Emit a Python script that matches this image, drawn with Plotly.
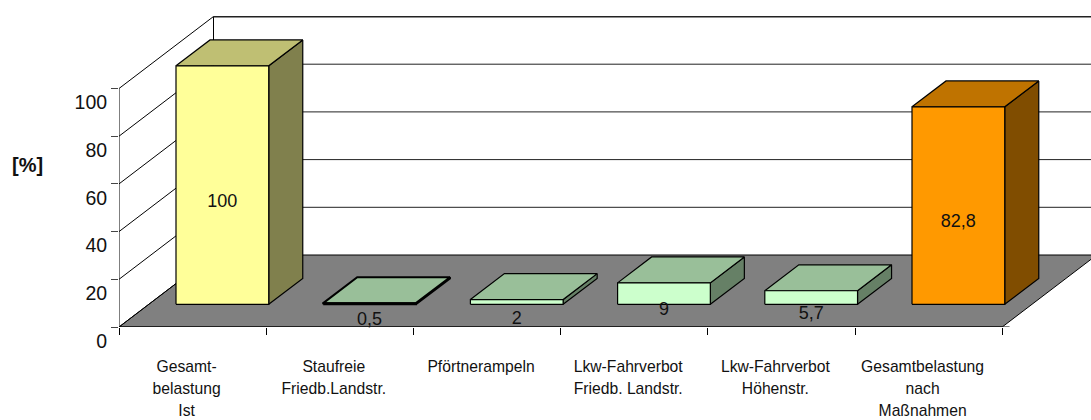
import plotly.graph_objects as go

categories = [
    ["Gesamt-", "belastung", "Ist"],
    ["Staufreie", "Friedb.Landstr."],
    ["Pförtnerampeln"],
    ["Lkw-Fahrverbot", "Friedb. Landstr."],
    ["Lkw-Fahrverbot", "Höhenstr."],
    ["Gesamtbelastung", "nach", "Maßnahmen"],
]
values = [100, 0.5, 2, 9, 5.7, 82.8]
value_labels = ["100", "0,5", "2", "9", "5,7", "82,8"]
y_ticks = [0, 20, 40, 60, 80, 100]

front_colors = ["#FFFF99", "#CCFFCC", "#CCFFCC", "#CCFFCC", "#CCFFCC", "#FF9900"]
top_colors = ["#BFBF73", "#99BF99", "#99BF99", "#99BF99", "#99BF99", "#BF7300"]
side_colors = ["#80804D", "#668066", "#668066", "#668066", "#668066", "#804D00"]

# Oblique projection of the 3D box (category, value, depth) on the 2D axes
DX = 94.5 / 147.2   # categories per unit of depth
DY = 72 / 2.385     # value units per unit of depth
GAP = 0.185
D0, D1 = 0.315, 0.675
LABEL_DROP = 7.2
N = len(categories)


def proj(cat, val, depth):
    return cat + depth * DX, val + depth * DY


def poly(fig, pts, fill=None, color="black", width=1):
    xs, ys = zip(*[proj(*p) for p in pts])
    fig.add_trace(go.Scatter(
        x=list(xs), y=list(ys), mode="lines",
        fill="toself" if fill else "none", fillcolor=fill,
        line=dict(color=color, width=width),
        hoverinfo="skip", showlegend=False, cliponaxis=False,
    ))


fig = go.Figure()

# floor
poly(fig, [(0, 0, 0), (N, 0, 0), (N, 0, 1), (0, 0, 1), (0, 0, 0)], fill="#808080")
# wall lines and gridlines
poly(fig, [(0, 0, 0), (0, 100, 0)])
poly(fig, [(0, 0, 1), (0, 100, 1)])
for t in y_ticks:
    w = 2 if t == 100 else 1
    poly(fig, [(0, t, 0), (0, t, 1)])
    if t:
        poly(fig, [(0, t, 1), (N, t, 1)], color="#222222", width=w)
# front floor edge
poly(fig, [(0, 0, 0), (N + 0.05, 0, 0)])

# boxes
for i, v in enumerate(values):
    a, b = i + GAP, i + 1 - GAP
    lw = 2 if v < 1 else 1.2
    poly(fig, [(b, 0, D0), (b, 0, D1), (b, v, D1), (b, v, D0), (b, 0, D0)], fill=side_colors[i], width=lw)
    poly(fig, [(a, v, D0), (b, v, D0), (b, v, D1), (a, v, D1), (a, v, D0)], fill=top_colors[i], width=lw)
    poly(fig, [(a, 0, D0), (b, 0, D0), (b, v, D0), (a, v, D0), (a, 0, D0)], fill=front_colors[i], width=lw)

# value labels
lx, ly = [], []
for i, v in enumerate(values):
    x, y = proj(i + 0.5, v / 2, D0)
    lx.append(x)
    ly.append(y - LABEL_DROP)
fig.add_trace(go.Scatter(
    x=lx, y=ly, mode="text", text=value_labels, textposition="middle center",
    textfont=dict(family="Liberation Sans", size=18, color="#111111"),
    hoverinfo="skip", showlegend=False, cliponaxis=False,
))

fig.update_layout(
    width=1091, height=420, autosize=False,
    margin=dict(l=119, r=0, t=16, b=93, autoexpand=False),
    paper_bgcolor="white", plot_bgcolor="white",
    font=dict(family="Liberation Sans", color="#111111"),
    showlegend=False,
    xaxis=dict(
        range=[0, 972 / 147.2], showgrid=False, zeroline=False, showline=False,
        automargin=False,
        tickmode="array", tickvals=[i + 0.5 for i in range(N)],
        ticktext=["<br>".join(f'<span style="font-size:15.7px">{p}</span>' for p in c) for c in categories],
        ticks="", ticklabelshift=-6, tickangle=0, ticklabelstandoff=27,
        tickfont=dict(family="Liberation Sans", size=17, color="#111111"),
        minor=dict(tickmode="array", tickvals=list(range(N + 1)), ticks="outside",
                   ticklen=7, tickcolor="black", tickwidth=1, showgrid=False),
    ),
    yaxis=dict(
        range=[0, 311 / 2.385], showgrid=False, zeroline=False, showline=False,
        automargin=False,
        tickmode="array", tickvals=y_ticks, ticktext=[str(t) for t in y_ticks],
        ticks="outside", ticklen=7, tickcolor="#444444", tickwidth=1,
        ticklabelshift=14,
        tickfont=dict(family="Liberation Sans", size=19.5, color="#111111"),
    ),
    annotations=[dict(
        text="<b>[%]</b>", xref="paper", yref="paper",
        x=(27.5 - 119) / 972, y=(327 - 165) / 311, showarrow=False,
        xanchor="center", yanchor="middle",
        font=dict(family="Liberation Sans", size=20, color="#111111"),
    )],
)

fig.write_html("out.html", post_script="document.body.style.margin='0';",
               config=dict(displayModeBar=False))
